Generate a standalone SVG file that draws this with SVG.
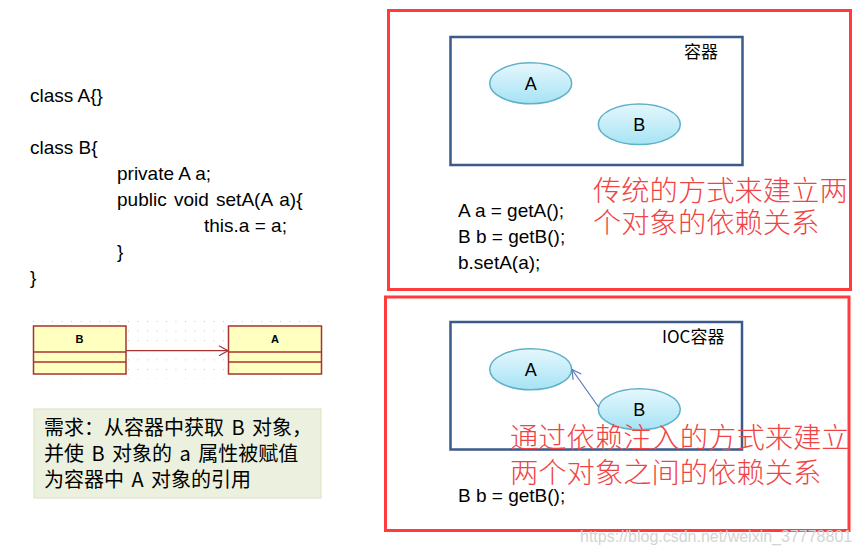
<svg xmlns="http://www.w3.org/2000/svg" width="859" height="554" viewBox="0 0 859 554">
<style>
.code{font-family:"Liberation Sans",Arial,sans-serif;font-size:19px;fill:#000}
.red{fill:none;stroke:#ff3b3b;stroke-width:3}
.blue{fill:none;stroke:#3a5a8a;stroke-width:2.5}
.ell{fill:url(#eg);stroke:#5fb1c8;stroke-width:1.5}
.elab{font-family:"Liberation Sans",Arial,sans-serif;font-size:18px;text-anchor:middle}
.cjk{font-family:"Noto Sans CJK SC","Liberation Sans",sans-serif}
.rtxt{font-family:"Noto Sans CJK SC",sans-serif;font-size:28.3px;fill:#f04444;font-weight:300}
.uml{fill:#ffffc0;stroke:#a83232;stroke-width:1.5}
.umlt{font-family:"Liberation Sans",Arial,sans-serif;font-size:11px;font-weight:bold;text-anchor:middle}
</style>
<defs>
<linearGradient id="eg" x1="0" y1="0" x2="0" y2="1">
<stop offset="0" stop-color="#e6f7fc"/>
<stop offset="1" stop-color="#a6e3f5"/>
</linearGradient>
<pattern id="dots" width="9.5" height="9.6" patternUnits="userSpaceOnUse" x="33" y="321">
<rect x="0" y="0" width="1" height="1" fill="#c8c8c8"/>
</pattern>
<marker id="open" markerWidth="12" markerHeight="12" refX="10" refY="6" orient="auto" markerUnits="userSpaceOnUse">
<path d="M1,1 L10,6 L1,11" fill="none" stroke="#a83232" stroke-width="1.2"/>
</marker>
<marker id="openb" markerWidth="12" markerHeight="12" refX="10" refY="6" orient="auto" markerUnits="userSpaceOnUse">
<path d="M1,1 L10,6 L1,11" fill="none" stroke="#5a7ab8" stroke-width="1.2"/>
</marker>
</defs>
<rect width="859" height="554" fill="#fff"/>

<g id="code">
<text class="code" x="30" y="102">class A{}</text>
<text class="code" x="30" y="154">class B{</text>
<text class="code" x="117" y="180">private A a;</text>
<text class="code" x="117" y="206" word-spacing="2">public void setA(A a){</text>
<text class="code" x="204" y="232">this.a = a;</text>
<text class="code" x="117" y="258">}</text>
<text class="code" x="30" y="284">}</text>
</g>

<g id="uml">
<rect x="33" y="320" width="290" height="59" fill="url(#dots)"/>
<g id="umlB">
<rect class="uml" x="33.5" y="326" width="92.5" height="48"/>
<line class="uml" x1="33.5" y1="352" x2="126" y2="352"/>
<line class="uml" x1="33.5" y1="362" x2="126" y2="362"/>
<text class="umlt" x="79.5" y="343">B</text>
</g>
<g id="umlA">
<rect class="uml" x="228.5" y="326" width="93" height="48"/>
<line class="uml" x1="228.5" y1="352" x2="321.5" y2="352"/>
<line class="uml" x1="228.5" y1="362" x2="321.5" y2="362"/>
<text class="umlt" x="275" y="343">A</text>
</g>
<g id="umlConn">
<line x1="126" y1="350.7" x2="228" y2="350.7" stroke="#a83232" stroke-width="1.3" marker-end="url(#open)"/>
</g>
</g>

<g id="req">
<rect x="34" y="409" width="287" height="89" fill="#ebf1de" stroke="#d7e4bd" stroke-width="1"/>
<text class="cjk" font-size="20" word-spacing="3" x="44" y="435">需求：从容器中获取 B 对象，</text>
<text class="cjk" font-size="20" word-spacing="3" x="44" y="461">并使 B 对象的 a 属性被赋值</text>
<text class="cjk" font-size="20" word-spacing="3" x="44" y="487">为容器中 A 对象的引用</text>
</g>

<g id="traditional">
<rect class="red" x="388.5" y="10.5" width="462" height="279"/>
<rect class="blue" x="450.5" y="37" width="292" height="128"/>
<text class="cjk" font-size="17" x="684" y="58">容器</text>
<g id="tA"><ellipse class="ell" cx="530.7" cy="83.3" rx="41" ry="20.5"/><text class="elab" x="530.7" y="90">A</text></g>
<g id="tB"><ellipse class="ell" cx="639.3" cy="124.3" rx="41" ry="20.3"/><text class="elab" x="639.3" y="131">B</text></g>
<text class="code" x="458" y="217">A a = getA();</text>
<text class="code" x="458" y="243">B b = getB();</text>
<text class="code" x="458" y="269">b.setA(a);</text>
<text class="rtxt" x="593" y="201">传统的方式来建立两</text>
<text class="rtxt" x="593" y="233">个对象的依赖关系</text>
</g>

<g id="ioc">
<rect class="red" x="385.5" y="297" width="463.5" height="233.5"/>
<rect class="blue" x="450.5" y="322" width="291.5" height="127.5"/>
<text class="cjk" font-size="17" x="662" y="343">IOC容器</text>
<g id="iA"><ellipse class="ell" cx="530.7" cy="369.3" rx="41" ry="20.5"/><text class="elab" x="530.7" y="376">A</text></g>
<g id="iB"><ellipse class="ell" cx="639.3" cy="409.3" rx="41" ry="20.5"/><text class="elab" x="639.3" y="416">B</text></g>
<g id="iocConn">
<line x1="598.5" y1="407" x2="572" y2="369.5" stroke="#5a7ab8" stroke-width="1.2" marker-end="url(#openb)"/>
</g>
<text class="rtxt" x="510" y="448" font-size="28.8">通过依赖注入的方式来建立</text>
<text class="rtxt" x="510" y="483" font-size="28.8">两个对象之间的依赖关系</text>
<text class="code" x="458" y="502">B b = getB();</text>
</g>

<text x="580" y="542" font-family="Liberation Sans,Arial,sans-serif" font-size="16" fill="#d4d4d4">https://blog.csdn.net/weixin_37778801</text>
</svg>
